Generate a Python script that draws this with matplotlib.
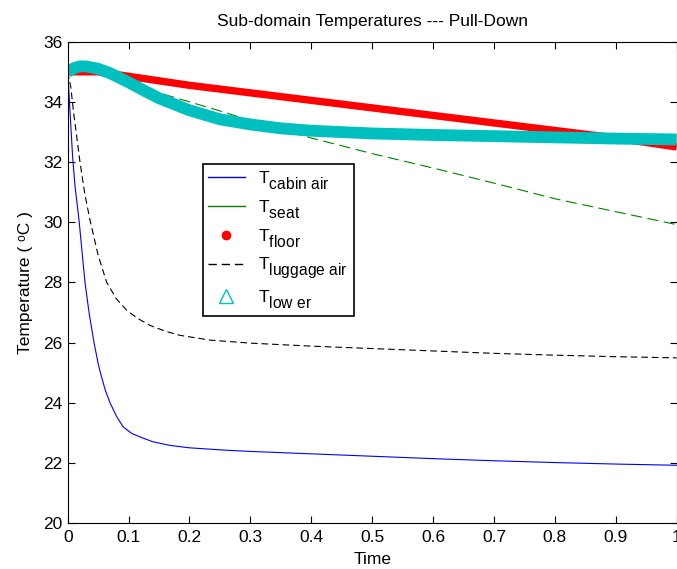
import matplotlib
matplotlib.use("Agg")
import matplotlib.pyplot as plt
from matplotlib.lines import Line2D
import matplotlib._mathtext as _mt

# MATLAB-style subscripts: nearly full size and dropped lower
_mt.SHRINK_FACTOR = 0.9
_mt.FontConstantsBase.sub1 = 0.75
_mt.FontConstantsBase.sub2 = 0.75

plt.rcParams['font.family'] = ['Liberation Sans', 'DejaVu Sans']
plt.rcParams['mathtext.fontset'] = 'custom'
plt.rcParams['mathtext.rm'] = 'Liberation Sans'
plt.rcParams['mathtext.it'] = 'Liberation Sans'

# ---- data ----
t_cabin = [0, 0.004, 0.008, 0.012, 0.0186, 0.0284, 0.035, 0.0432, 0.05, 0.055, 0.062, 0.0695, 0.08,
           0.091, 0.105, 0.119, 0.14, 0.168, 0.2, 0.26, 0.3, 0.4, 0.5, 0.6, 0.7, 0.8, 0.9, 1.0]
T_cabin = [35.0, 33.6, 32.2, 31.2, 30.07, 28.0, 27.0, 26.0, 25.3, 24.9, 24.4, 24.0, 23.55,
           23.2, 22.98, 22.86, 22.7, 22.58, 22.5, 22.42, 22.38, 22.30, 22.22, 22.14, 22.07, 22.01, 21.96, 21.92]

t_seat = [0, 0.02, 0.05, 0.1, 0.15, 0.2, 0.25, 0.3, 0.4, 0.5, 0.6, 0.7, 0.8, 0.9, 1.0]
T_seat = [35.0, 35.1, 35.0, 34.6, 34.3, 34.0, 33.7, 33.38, 32.8, 32.28, 31.8, 31.3, 30.78, 30.35, 29.92]

t_floor = [0, 0.05, 0.1, 0.2, 0.3, 0.4, 0.5, 0.6, 0.7, 0.8, 0.9, 1.0]
T_floor = [35.0, 35.0, 34.85, 34.55, 34.3, 34.05, 33.8, 33.55, 33.3, 33.05, 32.8, 32.5]

t_lugg = [0, 0.005, 0.01, 0.0202, 0.028, 0.0366, 0.05, 0.064, 0.08, 0.097, 0.115, 0.135, 0.16,
          0.184, 0.234, 0.3, 0.4, 0.5, 0.6, 0.7, 0.8, 0.9, 1.0]
T_lugg = [35.0, 34.5, 33.6, 32.0, 30.95, 30.07, 28.9, 28.0, 27.45, 27.07, 26.8, 26.57, 26.38,
          26.24, 26.08, 25.98, 25.88, 25.8, 25.72, 25.64, 25.58, 25.53, 25.49]

t_lower = [0, 0.01, 0.02, 0.03, 0.05, 0.07, 0.1, 0.125, 0.15, 0.2, 0.25, 0.3, 0.35, 0.4,
           0.5, 0.6, 0.7, 0.8, 0.9, 1.0]
T_lower = [35.0, 35.12, 35.18, 35.18, 35.1, 34.95, 34.65, 34.38, 34.12, 33.72, 33.42, 33.25,
           33.12, 33.04, 32.95, 32.9, 32.86, 32.82, 32.78, 32.75]

labels = [r'T$_{\rm cabin\ air}$', r'T$_{\rm seat}$', r'T$_{\rm floor}$',
          r'T$_{\rm luggage\ air}$', r'T$_{\rm low\ er}$']
xticks = [0, 0.1, 0.2, 0.3, 0.4, 0.5, 0.6, 0.7, 0.8, 0.9, 1]
xticklabels = ['0', '0.1', '0.2', '0.3', '0.4', '0.5', '0.6', '0.7', '0.8', '0.9', '1']
yticks = [20, 22, 24, 26, 28, 30, 32, 34, 36]

CYAN = '#00bfbf'
FS = 12.5

fig = plt.figure(figsize=(6.77, 5.69), dpi=100)
ax = fig.add_axes([0.1, 0.0808, 0.8995, 0.8459])

ax.plot(t_cabin, T_cabin, color='#0000ff', lw=0.8)
ax.plot(t_seat, T_seat, color='#008000', lw=0.8, dashes=(10, 5))
ax.plot(t_floor, T_floor, color='#ff0000', lw=5.3, solid_capstyle='butt')
ax.plot(t_lugg, T_lugg, color='black', lw=0.8, dashes=(6, 3.5))
ax.plot(t_lower, T_lower, color=CYAN, lw=8.5, solid_capstyle='butt')

ax.set_xlim(0, 1)
ax.set_ylim(20, 36)
ax.set_xticks(xticks)
ax.set_xticklabels(xticklabels)
ax.set_yticks(yticks)
ax.tick_params(direction='in', length=5, width=0.8, top=True, right=True,
               labelsize=FS, pad=4)
ax.tick_params(axis='x', pad=5)
for s in ax.spines.values():
    s.set_linewidth(0.8)

ax.set_title('Sub-domain Temperatures --- Pull-Down', fontsize=FS, pad=11)
ax.set_xlabel('Time', fontsize=FS, labelpad=5)
ax.set_ylabel('Temperature ( \u1d52C )', fontsize=FS, labelpad=7,
              family=['Liberation Sans', 'DejaVu Sans'])

handles = [
    Line2D([], [], color='#0000ff', lw=1),
    Line2D([], [], color='#008000', lw=1),
    Line2D([], [], color='#ff0000', ls='none', marker='o', markersize=6),
    Line2D([], [], color='black', lw=1, dashes=(6, 3.5)),
    Line2D([], [], color=CYAN, ls='none', marker='^', markersize=10,
           markerfacecolor='none', markeredgewidth=1),
]
leg = ax.legend(handles, labels, loc='upper left', bbox_to_anchor=(0.222, 0.746),
                borderaxespad=0, fontsize=FS, frameon=True, fancybox=False, framealpha=1,
                edgecolor='black', handlelength=2.1, labelspacing=0.36,
                borderpad=0.3, handletextpad=0.8)
leg.get_frame().set_linewidth(1.2)

fig.savefig('out.png', dpi=100)
